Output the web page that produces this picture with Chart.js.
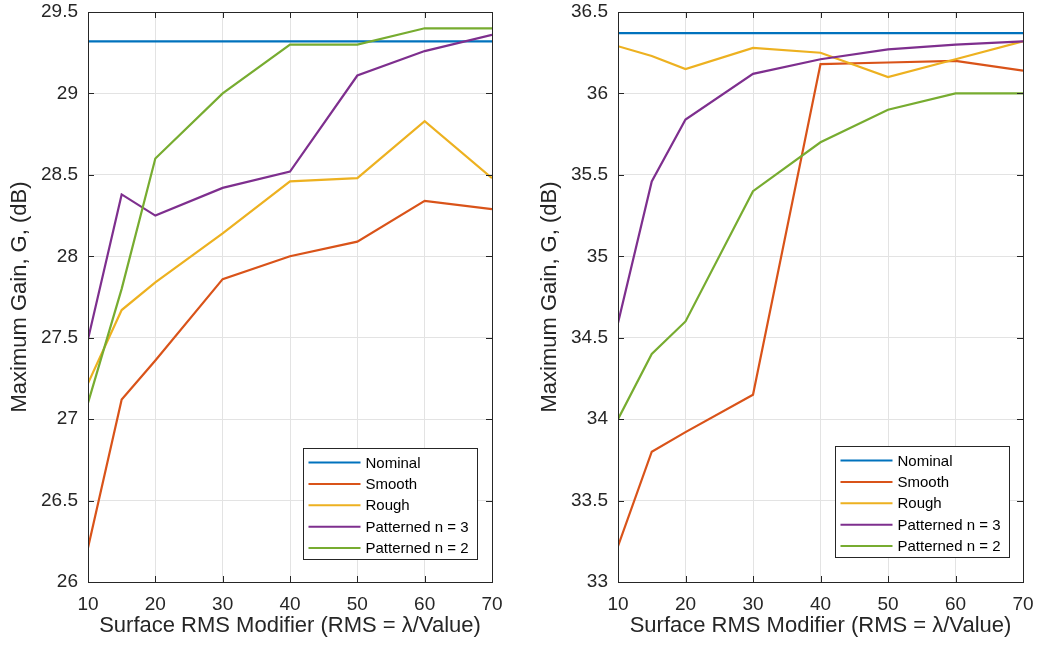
<!DOCTYPE html>
<html>
<head>
  <meta charset="UTF-8">
  <title>Maximum Gain vs Surface RMS</title>
  <script src="https://cdn.jsdelivr.net/npm/chart.js"></script>
  <style>
    body { margin: 0; background: #fff; overflow: hidden; }
    .wrap { position: absolute; top: 0; height: 651px; }
  </style>
</head>
<body>
  <div class="wrap" style="left:0;width:510px"><canvas id="leftChart"></canvas></div>
  <div class="wrap" style="left:530px;width:507px"><canvas id="rightChart"></canvas></div>
  <script>
    // x positions (Surface RMS modifier)
    const rmsValues = [10, 15, 20, 30, 40, 50, 60, 70];
    const seriesNames = ['Nominal', 'Smooth', 'Rough', 'Patterned n = 3', 'Patterned n = 2'];
    const seriesColors = ['#0072BD', '#D95319', '#EDB120', '#7E2F8E', '#77AC30'];

    // left panel
    const leftNominal  = [29.32, 29.32, 29.32, 29.32, 29.32, 29.32, 29.32, 29.32];
    const leftSmooth   = [26.21, 27.12, 27.36, 27.86, 28.00, 28.09, 28.34, 28.29];
    const leftRough    = [27.22, 27.67, 27.84, 28.14, 28.46, 28.48, 28.83, 28.48];
    const leftPat3     = [27.49, 28.38, 28.25, 28.42, 28.52, 29.11, 29.26, 29.36];
    const leftPat2     = [27.10, 27.80, 28.60, 29.00, 29.30, 29.30, 29.40, 29.40];
    const leftYTicks   = [26, 26.5, 27, 27.5, 28, 28.5, 29, 29.5];

    // right panel
    const rightNominal = [36.37, 36.37, 36.37, 36.37, 36.37, 36.37, 36.37, 36.37];
    const rightSmooth  = [33.22, 33.80, 33.92, 34.15, 36.18, 36.19, 36.20, 36.14];
    const rightRough   = [36.29, 36.23, 36.15, 36.28, 36.25, 36.10, 36.21, 36.32];
    const rightPat3    = [34.59, 35.46, 35.84, 36.12, 36.21, 36.27, 36.30, 36.32];
    const rightPat2    = [34.00, 34.40, 34.60, 35.40, 35.70, 35.90, 36.00, 36.00];
    const rightYTicks  = [33, 33.5, 34, 34.5, 35, 35.5, 36, 36.5];

    const xTicks = [10, 20, 30, 40, 50, 60, 70];
    const xTitle = 'Surface RMS Modifier (RMS = \u03bb/Value)';
    const yTitle = 'Maximum Gain, G, (dB)';

    const FONT = "'Liberation Sans', Arial, Helvetica, sans-serif";
    const AXIS = '#262626';

    // box, inward ticks and boxed legend, like a MATLAB axes
    const matlabAxes = {
      id: 'matlabAxes',
      afterDraw(chart, args, opts) {
        const ctx = chart.ctx;
        const a = chart.chartArea;
        const xs = chart.scales.x, ys = chart.scales.y;
        ctx.save();
        ctx.strokeStyle = AXIS;
        ctx.lineWidth = 1;
        ctx.beginPath();
        xTicks.forEach(v => {
          const px = Math.round(xs.getPixelForValue(v)) + 0.5;
          ctx.moveTo(px, a.bottom); ctx.lineTo(px, a.bottom - 6);
          ctx.moveTo(px, a.top); ctx.lineTo(px, a.top + 6);
        });
        opts.yTicks.forEach(v => {
          const py = Math.round(ys.getPixelForValue(v)) + 0.5;
          ctx.moveTo(a.left, py); ctx.lineTo(a.left + 6, py);
          ctx.moveTo(a.right, py); ctx.lineTo(a.right - 6, py);
        });
        ctx.stroke();
        ctx.strokeRect(Math.round(a.left) + 0.5, Math.round(a.top) + 0.5,
                       Math.round(a.right - a.left), Math.round(a.bottom - a.top));

        // legend
        const bw = 174, bh = 111;
        const bx = Math.round(a.right - opts.legRight - bw) + 0.5;
        const by = Math.round(a.bottom - opts.legBottom - bh) + 0.5;
        ctx.fillStyle = '#fff';
        ctx.fillRect(bx, by, bw, bh);
        ctx.strokeStyle = AXIS;
        ctx.strokeRect(bx, by, bw, bh);
        ctx.font = '15px ' + FONT;
        ctx.textBaseline = 'middle';
        ctx.textAlign = 'left';
        chart.data.datasets.forEach((ds, i) => {
          const ry = by + 14 + i * 21.4;
          ctx.strokeStyle = ds.borderColor;
          ctx.lineWidth = 2;
          ctx.beginPath();
          ctx.moveTo(bx + 5, ry); ctx.lineTo(bx + 57, ry);
          ctx.stroke();
          ctx.fillStyle = '#000';
          ctx.fillText(ds.label, bx + 62, ry + 1);
        });
        ctx.restore();
      }
    };

    function makeChart(id, series, yMin, yMax, yTicks, padRight, legRight, legBottom) {
      const datasets = series.map((vals, i) => ({
        label: seriesNames[i],
        data: rmsValues.map((x, j) => ({ x: x, y: vals[j] })),
        borderColor: seriesColors[i],
        backgroundColor: seriesColors[i],
        borderWidth: 2.2,
        pointRadius: 0,
        tension: 0,
        order: series.length - i
      }));
      return new Chart(document.getElementById(id), {
        type: 'line',
        data: { datasets },
        plugins: [matlabAxes],
        options: {
          responsive: true,
          maintainAspectRatio: false,
          animation: false,
          layout: { padding: { top: 12, right: padRight, left: 0, bottom: 0 } },
          plugins: {
            legend: { display: false },
            tooltip: { enabled: false },
            matlabAxes: { yTicks, legRight, legBottom }
          },
          scales: {
            x: {
              type: 'linear', min: 10, max: 70,
              afterBuildTicks: s => { s.ticks = xTicks.map(v => ({ value: v })); },
              afterFit: s => { s.height = 69; s.paddingLeft = 0; s.paddingRight = 0; },
              grid: { color: '#e3e3e3', drawTicks: false },
              border: { display: false },
              ticks: { color: AXIS, padding: 11, font: { family: FONT, size: 19 }, maxRotation: 0 },
              title: { display: true, text: xTitle, color: AXIS,
                       font: { family: FONT, size: 22 }, padding: { top: 0, bottom: 12 } }
            },
            y: {
              type: 'linear', min: yMin, max: yMax,
              afterBuildTicks: s => { s.ticks = yTicks.map(v => ({ value: v })); },
              afterFit: s => { s.width = 88; s.paddingTop = 0; s.paddingBottom = 0; },
              grid: { color: '#e3e3e3', drawTicks: false },
              border: { display: false },
              ticks: { color: AXIS, padding: 10, font: { family: FONT, size: 19 },
                       callback: v => String(v) },
              title: { display: true, text: yTitle, color: AXIS,
                       font: { family: FONT, size: 22 }, padding: { top: 7, bottom: 0 } }
            }
          }
        }
      });
    }

    makeChart('leftChart', [leftNominal, leftSmooth, leftRough, leftPat3, leftPat2],
              26, 29.5, leftYTicks, 18, 15, 23);
    makeChart('rightChart', [rightNominal, rightSmooth, rightRough, rightPat3, rightPat2],
              33, 36.5, rightYTicks, 14, 14, 25);
  </script>
</body>
</html>
